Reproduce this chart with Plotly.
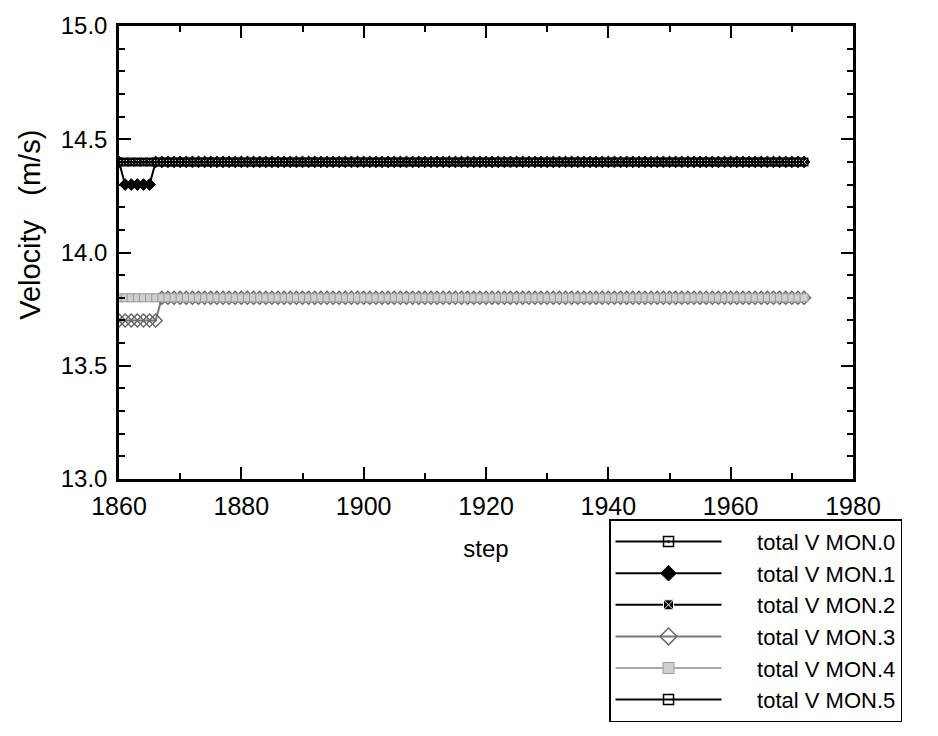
import plotly.graph_objects as go

# ---- data ----
steps = list(range(1860, 1973))

# run-length encoded values: (value, number of consecutive steps)
MON0_RUNS = [(14.4, 113)]
MON1_RUNS = [(14.4, 1), (14.3, 5), (14.4, 107)]
MON2_RUNS = [(14.4, 113)]
MON3_RUNS = [(13.7, 7), (13.8, 106)]
MON4_RUNS = [(13.8, 113)]
MON5_RUNS = [(14.4, 113)]

series_names = ["total V MON.0", "total V MON.1", "total V MON.2",
                "total V MON.3", "total V MON.4", "total V MON.5"]

x_ticks = [1860, 1880, 1900, 1920, 1940, 1960, 1980]
y_ticks = [13.0, 13.5, 14.0, 14.5, 15.0]


def expand(runs):
    out = []
    for v, k in runs:
        out.extend([v] * k)
    return out


all_runs = [MON0_RUNS, MON1_RUNS, MON2_RUNS, MON3_RUNS, MON4_RUNS, MON5_RUNS]

styles = [
    dict(line=dict(color="black", width=2),
         marker=dict(symbol="square-open-dot", color="black", size=7, line=dict(width=1.5))),
    dict(line=dict(color="black", width=2),
         marker=dict(symbol="diamond", color="black", size=9, line=dict(color="black", width=1))),
    dict(line=dict(color="black", width=2),
         marker=dict(symbol="square-x", color="black", size=7, line=dict(color="white", width=1))),
    dict(line=dict(color="#777777", width=2),
         marker=dict(symbol="diamond-open", color="#666666", size=10, line=dict(width=1.5))),
    dict(line=dict(color="#aaaaaa", width=2),
         marker=dict(symbol="square", color="#cfcfcf", size=8, line=dict(color="#999999", width=1))),
    dict(line=dict(color="black", width=2),
         marker=dict(symbol="square-open", color="black", size=7, line=dict(width=1.5))),
]

fig = go.Figure()

for name, runs, st in zip(series_names, all_runs, styles):
    fig.add_trace(go.Scatter(x=steps, y=expand(runs), mode="lines+markers",
                             name=name, showlegend=False,
                             line=st["line"], marker=st["marker"]))

# legend entries (larger symbols, as in the reference legend)
pad = "&nbsp;" * 5
for name, st in zip(series_names, styles):
    m = dict(st["marker"])
    m["size"] = m["size"] + 3
    fig.add_trace(go.Scatter(x=[None], y=[None], mode="lines+markers", name=pad + name,
                             line=st["line"], marker=m, showlegend=True))

axis_common = dict(
    showline=True, linecolor="black", linewidth=2.5, mirror="allticks",
    ticks="inside", tickwidth=2, tickcolor="black",
    showgrid=False, zeroline=False,
)

fig.update_layout(
    width=938, height=736,
    margin=dict(l=119, r=85, t=19, b=257),
    paper_bgcolor="white", plot_bgcolor="white",
    font=dict(family="Liberation Sans, Arial, sans-serif", color="black"),
    xaxis=dict(range=[1860, 1980], tickvals=x_ticks, ticklen=12,
               minor=dict(dtick=10, tick0=1860, ticks="inside", ticklen=6, tickwidth=2, tickcolor="black"),
               tickfont=dict(size=25), ticklabelstandoff=3,
               title=dict(text="step", font=dict(size=24), standoff=22),
               **axis_common),
    yaxis=dict(range=[13, 15], tickvals=y_ticks, tickformat=".1f", ticklen=12,
               minor=dict(dtick=0.1, tick0=13, ticks="inside", ticklen=6, tickwidth=2, tickcolor="black"),
               tickfont=dict(size=24), ticklabelstandoff=4,
               **axis_common),
    legend=dict(x=0.6676, y=-0.089, xanchor="left", yanchor="top",
                bordercolor="black", borderwidth=1.5, bgcolor="white",
                font=dict(size=22), itemwidth=106, tracegroupgap=0),
    annotations=[dict(text="Velocity&nbsp;&nbsp; (m/s)", textangle=-90,
                      xref="paper", yref="paper", x=-0.1213, y=0.561,
                      xanchor="center", yanchor="middle", showarrow=False,
                      font=dict(size=29))],
)

fig.write_html("out.html")
